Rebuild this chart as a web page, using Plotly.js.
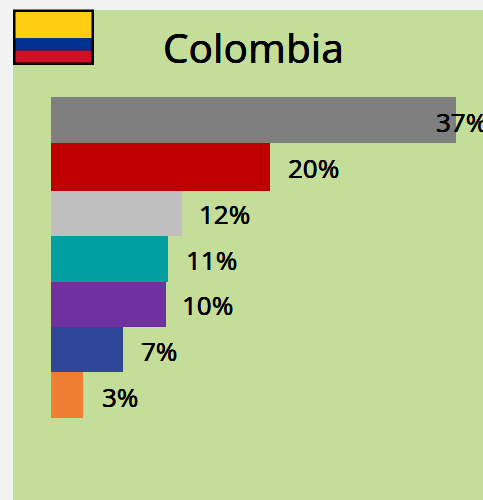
<!DOCTYPE html>
<html><head><meta charset="utf-8">
<script src="https://cdn.plot.ly/plotly-3.0.1.min.js"></script>
<style>html,body{margin:0;padding:0;background:#f2f2f2;overflow:hidden}</style>
</head><body><div id="chart" style="width:483px;height:500px"></div>
<script>
const categories = ["A","B","C","D","E","F","G"];
const barLengths = [37,20,12,10.7,10.5,6.6,2.95];
const labels = ["37%","20%","12%","11%","10%","7%","3%"];
const barColors = ["#7f7f7f","#c00000","#bfbfbf","#00a0a0","#7030a0","#2f4699","#ef7e32"];
const barThickness = [1.003,1.047,0.981,1.003,0.981,0.981,1.003];
const labelShift = [-21,17,16,17,15,17,18];
const flagColors = ["#ffcd11","#00318f","#ce1126"];
const W=483,H=500;
const P=(x0,y0,x1,y1,fill)=>({type:"rect",xref:"paper",yref:"paper",layer:"above",x0:(x0-13)/470,x1:(x1-13)/470,y0:(500-y1)/490,y1:(500-y0)/490,fillcolor:fill,line:{width:0}});
const fontFam="Noto Sans, Open Sans, sans-serif";
const heavy="0 0 0.6px #000, 0 0 0.6px #000";
let run=0;
const barOffsets=barThickness.map((t,i)=>{const o=run-0.5-i;run+=t;return o;});

Plotly.newPlot("chart",[{
  type:"bar", orientation:"h", y:categories, x:barLengths,
  marker:{color:barColors,line:{width:0}}, width:barThickness, offset:barOffsets, hoverinfo:"skip", showlegend:false
}],{
  width:W,height:H,
  paper_bgcolor:"#f2f2f2",plot_bgcolor:"#c4dd99",
  margin:{l:13,r:0,t:10,b:0},
  bargap:0,
  xaxis:{range:[-3.47,39.47],showgrid:false,zeroline:false,showticklabels:false,ticks:"",fixedrange:true},
  yaxis:{type:"category",categoryorder:"array",categoryarray:categories,range:[8.286,-2.4],showgrid:false,zeroline:false,showticklabels:false,ticks:"",fixedrange:true},
  annotations:[
    {text:"Colombia",xref:"paper",yref:"paper",x:(253.5-13)/470,y:(500-47)/490,xanchor:"center",yanchor:"middle",showarrow:false,font:{family:fontFam,size:40.5,color:"#000",shadow:heavy}}
  ].concat(labels.map((t,i)=>({text:t,xref:"x",yref:"y",x:barLengths[i],y:categories[i],xshift:labelShift[i],yshift:-2,xanchor:"left",yanchor:"middle",showarrow:false,font:{family:fontFam,size:26,color:"#000",shadow:heavy},borderpad:0}))),
  shapes:[
    P(13,9.5,94,65,"#000"),
    P(15.5,12,91.5,38,flagColors[0]),
    P(15.5,38,91.5,50.5,flagColors[1]),
    P(15.5,50.5,91.5,62.5,flagColors[2])
  ]
},{displayModeBar:false,staticPlot:true});
</script></body></html>
